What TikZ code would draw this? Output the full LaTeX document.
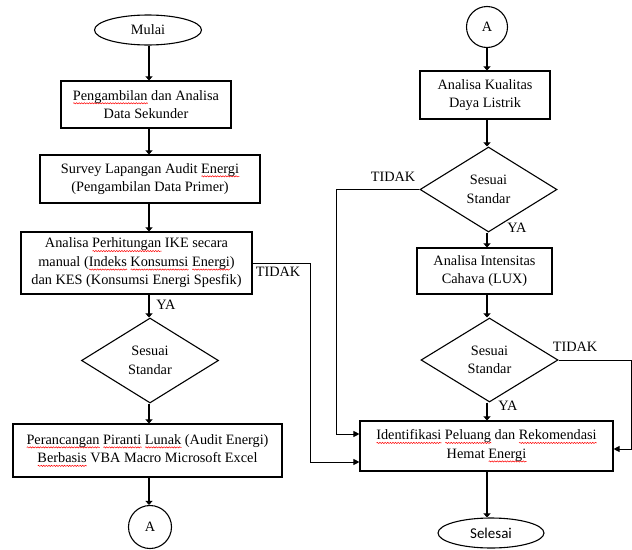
\documentclass[tikz,border=0pt]{standalone}
\usepackage{fontspec}
\setmainfont{Liberation Serif}
\newfontfamily\timesfont{Liberation Serif}
\newfontfamily\calibri{Carlito}
\usepackage{tikz}
\usetikzlibrary{shapes.geometric, arrows.meta, decorations.pathmorphing}

\newcommand{\salah}[1]{\setbox0=\hbox{#1}\rlap{\raisebox{-4pt}{\tikz\draw[red, line width=0.5pt, decorate, decoration={snake, amplitude=0.6pt, segment length=2.6pt}] (0pt,0pt) -- (\the\wd0,0pt);}}#1}

\begin{document}
\begin{tikzpicture}[x=1pt, y=-1pt,
    every node/.style={font=\timesfont\fontsize{14.3}{18.5}\selectfont},
    proses/.style={draw, line width=1.1pt, rectangle, align=center, inner sep=0pt},
    keputusan/.style={draw, line width=1.1pt, diamond, align=center, inner sep=0pt, minimum width=137, minimum height=85},
    terminal/.style={draw, line width=1.1pt, ellipse, inner sep=0pt, minimum width=107, minimum height=30},
    konektor/.style={draw, line width=1.1pt, circle, inner sep=0pt, minimum size=43},
    alur/.style={-{Triangle[length=4pt, width=7pt]}, line width=2.8pt},
    alurtipis/.style={-{Triangle[length=6pt, width=6pt]}, line width=0.9pt}]
    \useasboundingbox (0,0) rectangle (632,549);

    % Kolom kiri
    \node[terminal] (mulai) at (148,30) {Mulai};
    \node[proses, minimum width=170, minimum height=47] (sekunder) at (146,104.5) {\salah{Pengambilan} dan Analisa\\Data Sekunder};
    \node[proses, minimum width=220, minimum height=48] (survey) at (150,179) {Survey Lapangan Audit \salah{Energi}\\(Pengambilan Data Primer)};
    \node[proses, minimum width=231, minimum height=62] (ike) at (136.5,263) {Analisa \salah{Perhitungan} IKE secara\\manual (\salah{Indeks} \salah{Konsumsi} \salah{Energi})\\dan KES (Konsumsi Energi Spesfik)};
    \node[keputusan] (cekike) at (150,360.5) {Sesuai\\Standar};
    \node[proses, minimum width=269, minimum height=53] (perancangan) at (147.5,450.5) {\salah{Perancangan} \salah{Piranti} \salah{Lunak} (Audit Energi)\\\salah{Berbasis} VBA Macro Microsoft Excel};
    \node[konektor] (akiri) at (150,527) {A};

    % Kolom kanan
    \node[konektor, minimum size=41] (akanan) at (487,27) {A};
    \node[proses, minimum width=130, minimum height=48] (kualitas) at (485,95) {Analisa Kualitas\\Daya Listrik};
    \node[keputusan] (cekdaya) at (488.5,189.5) {Sesuai\\Standar};
    \node[proses, minimum width=135, minimum height=46] (intensitas) at (484.5,271) {Analisa Intensitas\\Cahava (LUX)};
    \node[keputusan, minimum height=84] (ceklux) at (489.5,360) {Sesuai\\Standar};
    \node[proses, minimum width=253, minimum height=50] (identifikasi) at (486.5,446) {\salah{Identifikasi} \salah{Peluang} dan \salah{Rekomendasi}\\Hemat \salah{Energi}};
    \node[terminal, minimum width=106, font=\calibri\fontsize{15}{18}\selectfont] (selesai) at (491,533) {Selesai};

    % Alur utama
    \coordinate (kiri) at (149,0);
    \coordinate (kanan) at (487,0);
    \foreach \a/\b in {mulai/sekunder, sekunder/survey, survey/ike, ike/cekike, cekike/perancangan, perancangan/akiri}
        \draw[alur] (\a.south -| kiri) -- (\b.north -| kiri);
    \foreach \a/\b in {akanan/kualitas, kualitas/cekdaya, cekdaya/intensitas, intensitas/ceklux, ceklux/identifikasi, identifikasi/selesai}
        \draw[alur] (\a.south -| kanan) -- (\b.north -| kanan);

    % Alur TIDAK
    \coordinate (belokike) at (310,462);
    \coordinate (belokdaya) at (336,434);
    \coordinate (beloklux) at (631,449);
    \draw[alurtipis] (ike.east) -| (belokike) -- (belokike -| identifikasi.west);
    \draw[alurtipis] (cekdaya.west) -| (belokdaya) -- (belokdaya -| identifikasi.west);
    \draw[alurtipis] (ceklux.east) -| (beloklux) -- (beloklux -| identifikasi.east);

    % Label
    \node (tidakike) at (278,272) {TIDAK};
    \node (yaike) at (166,305) {YA};
    \node (tidakdaya) at (393,177) {TIDAK};
    \node (yadaya) at (517,228) {YA};
    \node (tidaklux) at (575,347) {TIDAK};
    \node (yalux) at (508,406) {YA};
\end{tikzpicture}
\end{document}
